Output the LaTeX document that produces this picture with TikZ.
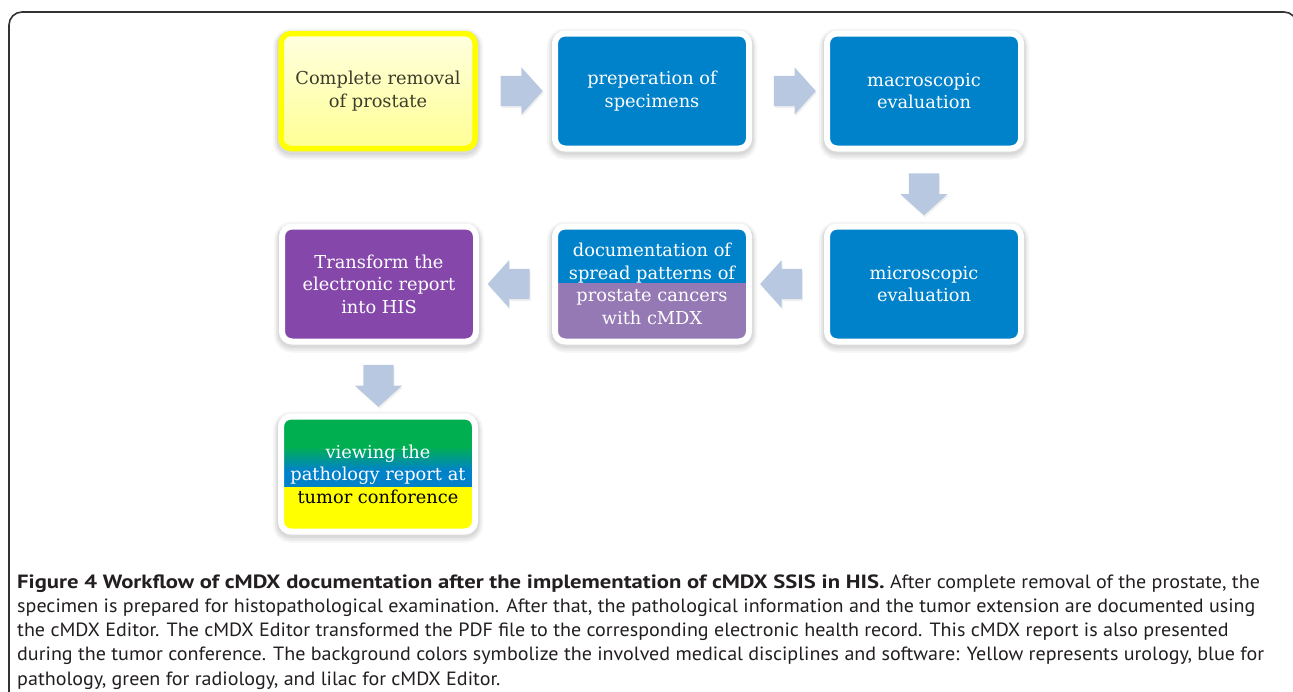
\documentclass[tikz,border=0pt]{standalone}
\usepackage{fontspec}
\setmainfont{DejaVu Serif}
\newfontfamily\capfont[FakeStretch=1.045, BoldFeatures={FakeStretch=1.18}]{PT Sans}
\usetikzlibrary{shapes.arrows,calc}

\definecolor{pathblue}{RGB}{0,130,202}
\definecolor{lilac}{RGB}{148,121,180}
\definecolor{cmdxpurple}{RGB}{133,72,170}
\definecolor{arrowfill}{RGB}{185,200,225}
\definecolor{radgreen}{RGB}{0,176,80}
\definecolor{uroyellow}{RGB}{255,255,0}
\definecolor{framecol}{RGB}{51,51,51}
\definecolor{captext}{RGB}{35,31,32}
\definecolor{darktext}{RGB}{60,60,45}

\tikzset{
  softshadow/.style={
    preaction={draw=black, opacity=0.04, line width=16pt, transform canvas={yshift=-3pt}},
    preaction={draw=black, opacity=0.05, line width=12pt, transform canvas={yshift=-3pt}},
    preaction={draw=black, opacity=0.06, line width=9pt, transform canvas={yshift=-2pt}}},
  stepbox/.style={rectangle, rounded corners=10pt, draw=white, line width=6pt,
    minimum width=194pt, minimum height=115pt, inner sep=0pt, align=center,
    text=white, font=\fontsize{17.8}{22.5}\selectfont, softshadow},
  blockarrow/.style={single arrow, draw=none, fill=arrowfill,
    minimum height=42pt, inner xsep=0pt, inner ysep=15pt,
    single arrow head extend=8.5pt, single arrow tip angle=96,
    single arrow head indent=0pt,
    preaction={fill=black, opacity=0.06, transform canvas={xshift=1pt,yshift=-2pt}}},
  capline/.style={anchor=base west, inner sep=0pt, text=captext,
    font=\capfont\fontsize{19.2}{24}\selectfont}
}

\begin{document}
\begin{tikzpicture}[x=1pt, y=-1pt]
  \useasboundingbox (0,0) rectangle (1293,691);
  \fill[white] (0,0) rectangle (1293,691);

  % figure frame
  \draw[framecol, line width=1.6pt, rounded corners=13pt]
    (9,720) -- (9,12) -- (1297,12) -- (1297,120);

  % first row
  \node[stepbox, draw=uroyellow, line width=5.5pt, top color=yellow!12,
        bottom color=yellow!42, text=darktext] (b1) at (378,91)
        {Complete removal\\of prostate};
  \node[stepbox, fill=pathblue] (b2) at (652,91) {preperation of\\specimens};
  \node[stepbox, fill=pathblue] (b3) at (924,91) {macroscopic\\evaluation};

  % second row
  \node[stepbox, fill=pathblue] (b4) at (924,284) {microscopic\\evaluation};
  \node[stepbox, fill=lilac,
        path picture={\fill[pathblue, sharp corners] (path picture bounding box.north west)
          rectangle ([yshift=1pt]path picture bounding box.east);}]
        (b5) at (652,284)
        {documentation of\\spread patterns of\\prostate cancers\\with cMDX};
  \node[stepbox, fill=cmdxpurple] (b6) at (379,284)
        {Transform the\\electronic report\\into HIS};

  % third row
  \node[stepbox, fill=uroyellow,
        path picture={
          \begin{scope}[sharp corners]
          \fill[radgreen] (path picture bounding box.north west)
            rectangle ([yshift=27pt]path picture bounding box.east);
          \shade[top color=radgreen, bottom color=pathblue]
            ([yshift=27.5pt]path picture bounding box.west)
            rectangle ([yshift=3.5pt]path picture bounding box.east);
          \fill[pathblue] ([yshift=4pt]path picture bounding box.west)
            rectangle ([yshift=-13pt]path picture bounding box.east);
          \end{scope}}]
        (b7) at (378,474)
        {viewing the\\pathology report at\\\textcolor{black}{tumor conforence}};

  % block arrows between the steps
  \node[blockarrow] (a1) at ($(b1.east)!0.5!(b2.west)$) {};
  \node[blockarrow] (a2) at ($(b2.east)!0.5!(b3.west)$) {};
  \node[blockarrow, rotate=-90] (a3) at ($(b3.south)!0.5!(b4.north)$) {};
  \node[blockarrow, rotate=180] (a4) at ($(b4.west)!0.5!(b5.east)$) {};
  \node[blockarrow, rotate=180] (a5) at ($(b5.west)!0.5!(b6.east)$) {};
  \node[blockarrow, rotate=-90] (a6) at ($(b6.south)!0.5!(b7.north)$) {};

  % caption
  \node[capline] (c1) at (17,588) {\textbf{Figure 4 Workflow of cMDX documentation after the implementation of cMDX SSIS in HIS.} After complete removal of the prostate, the};
  \node[capline] (c2) at (17,612.3) {specimen is prepared for histopathological examination. After that, the pathological information and the tumor extension are documented using};
  \node[capline] (c3) at (17,636.5) {the cMDX Editor. The cMDX Editor transformed the PDF file to the corresponding electronic health record. This cMDX report is also presented};
  \node[capline] (c4) at (17,660.8) {during the tumor conference. The background colors symbolize the involved medical disciplines and software: Yellow represents urology, blue for};
  \node[capline] (c5) at (17,685) {pathology, green for radiology, and lilac for cMDX Editor.};
\end{tikzpicture}
\end{document}
